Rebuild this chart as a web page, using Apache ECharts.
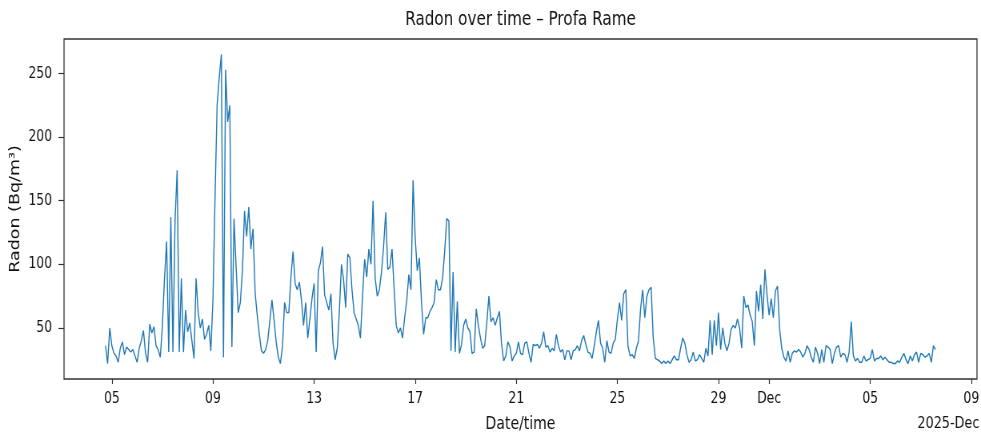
<!DOCTYPE html>
<html>
<head>
<meta charset="utf-8">
<title>Radon over time – Profa Rame</title>
<script src="https://cdn.jsdelivr.net/npm/echarts@6/dist/echarts.min.js"></script>
<style>
  html, body { margin: 0; padding: 0; background: #fff; overflow: hidden; }
  /* the reference figure is squeezed horizontally: draw wider, then scale x */
  #chart { width: 1226px; height: 433px; transform: scaleX(0.80016); transform-origin: 0 0; }
</style>
</head>
<body>
<div id="chart"></div>
<script>
// radon readings (Bq/m3), one every 2 hours, first at 2025-11-04 18:00
const stepHours = 2;
const week1 = [
  36, 22, 50,                                         // Nov 4 (18h-22h)
  36, 30, 28, 23, 34, 39, 29, 35, 33, 31, 33, 28,     // Nov 5
  23, 34, 40, 48, 30, 23, 53, 46, 51, 36, 33, 27,     // Nov 6
  52, 89, 118, 31, 137, 31, 134, 174, 31, 89, 31, 64, // Nov 7
  47, 54, 40, 26, 89, 62, 50, 57, 41, 45, 52, 32,     // Nov 8
  72, 153, 226, 247, 265, 27, 253, 212, 225, 35, 136, 98, // Nov 9
  62, 70, 95, 142, 122, 145, 112, 128, 78, 60, 45, 32     // Nov 10
];
const week2 = [
  30, 33, 40, 56, 72, 56, 39, 27, 22, 36, 70, 62,     // Nov 11
  62, 90, 110, 85, 80, 86, 72, 52, 70, 42, 57, 73,    // Nov 12
  85, 31, 95, 101, 114, 76, 70, 64, 77, 38, 25, 34,   // Nov 13
  63, 100, 88, 66, 108, 105, 80, 62, 57, 52, 42, 75,  // Nov 14
  104, 90, 112, 100, 150, 89, 75, 80, 94, 114, 141, 96, // Nov 15
  98, 112, 81, 52, 46, 50, 42, 58, 72, 92, 80, 166,   // Nov 16
  121, 95, 105, 70, 45, 58, 58, 63, 66, 70, 88, 80    // Nov 17
];
const week3 = [
  80, 89, 110, 136, 134, 32, 94, 31, 71, 30, 37, 52,  // Nov 18
  57, 50, 47, 30, 31, 65, 52, 42, 34, 36, 54, 75,     // Nov 19
  55, 58, 52, 58, 63, 37, 24, 28, 39, 35, 24, 28,     // Nov 20
  30, 39, 30, 29, 38, 39, 30, 23, 37, 36, 37, 34,     // Nov 21
  38, 47, 35, 36, 31, 34, 32, 45, 36, 31, 33, 25,     // Nov 22
  32, 32, 25, 32, 33, 36, 32, 40, 44, 37, 31, 30,     // Nov 23
  26, 36, 47, 56, 38, 34, 23, 40, 31, 30, 38, 41      // Nov 24
];
const week4 = [
  57, 70, 56, 77, 80, 36, 28, 29, 26, 34, 40, 65,     // Nov 25
  80, 58, 75, 80, 82, 42, 26, 25, 24, 22, 24, 22,     // Nov 26
  24, 22, 25, 28, 25, 25, 34, 42, 38, 29, 23, 25,     // Nov 27
  31, 24, 25, 29, 26, 23, 34, 28, 56, 29, 56, 36,     // Nov 28
  62, 33, 50, 38, 32, 38, 49, 52, 50, 57, 50, 34,     // Nov 29
  75, 66, 68, 60, 55, 36, 79, 63, 84, 57, 96, 76,     // Nov 30
  60, 73, 58, 79, 83, 49, 34, 27, 24, 32, 23, 30      // Dec 1
];
const week5 = [
  32, 31, 33, 31, 27, 30, 36, 33, 27, 23, 35, 30,     // Dec 2
  22, 33, 23, 36, 35, 33, 22, 30, 35, 36, 27, 30,     // Dec 3
  29, 23, 31, 55, 28, 24, 26, 23, 23, 28, 24, 25,     // Dec 4
  26, 33, 24, 26, 26, 28, 25, 27, 25, 23, 23, 22,     // Dec 5
  22, 24, 23, 27, 30, 25, 22, 28, 24, 29, 31, 23,     // Dec 6
  30, 29, 27, 28, 30, 23, 36, 33                      // Dec 7 (0h-14h)
];

const xTickDates = [[2025, 11, 5], [2025, 11, 9], [2025, 11, 13], [2025, 11, 17], [2025, 11, 21],
  [2025, 11, 25], [2025, 11, 29], [2025, 12, 1], [2025, 12, 5], [2025, 12, 9]];
const xTickLabels = ['05', '09', '13', '17', '21', '25', '29', 'Dec', '05', '09'];
const yTickValues = [50, 100, 150, 200, 250];

const radon = [].concat(week1, week2, week3, week4, week5);
const points = radon.map((v, i) => [new Date(2025, 10, 4, 18 + i * stepHours).getTime(), v]);
const xTickValues = xTickDates.map(d => new Date(d[0], d[1] - 1, d[2]).getTime());

// matplotlib-like 5% margins
const t0 = points[0][0], t1 = points[points.length - 1][0];
const vMin = Math.min(...radon), vMax = Math.max(...radon);
const xPad = (t1 - t0) * 0.05, yPad = (vMax - vMin) * 0.05;

const font = 'DejaVu Sans';
const chart = echarts.init(document.getElementById('chart'));
chart.setOption({
  animation: false,
  grid: {
    left: 80, right: 5, top: 39, bottom: 54,
    outerBoundsMode: 'none',
    show: true, borderColor: '#333', borderWidth: 1.3
  },
  graphic: [
    {
      type: 'text', x: 650.5, y: 20,
      style: { text: 'Radon over time – Profa Rame', fontFamily: font, fontSize: 19, fill: '#111', align: 'center', verticalAlign: 'middle' }
    },
    {
      type: 'text', x: 1224, y: 424,
      style: { text: '2025-Dec', fontFamily: font, fontSize: 16, fill: '#111', align: 'right', verticalAlign: 'middle' }
    }
  ],
  xAxis: {
    type: 'value',
    min: t0 - xPad,
    max: t1 + xPad,
    name: 'Date/time',
    nameLocation: 'middle',
    nameGap: 36,
    nameMoveOverlap: false,
    nameTextStyle: { fontFamily: font, fontSize: 17.5, color: '#111' },
    axisLine: { show: false },
    axisTick: { show: true, length: 5, lineStyle: { color: '#333', width: 1.2 }, customValues: xTickValues },
    axisLabel: {
      customValues: xTickValues,
      margin: 12,
      fontFamily: font, fontSize: 15.5, color: '#111',
      formatter: (val) => {
        const k = xTickValues.indexOf(val);
        return k >= 0 ? xTickLabels[k] : '';
      }
    },
    splitLine: { show: false }
  },
  yAxis: {
    type: 'value',
    min: vMin - yPad,
    max: vMax + yPad,
    name: 'Radon (Bq/m³)',
    nameLocation: 'middle',
    nameGap: 52,
    nameMoveOverlap: false,
    nameTextStyle: { fontFamily: font, fontSize: 17.5, color: '#111' },
    axisLine: { show: false },
    axisTick: { show: true, length: 7, lineStyle: { color: '#333', width: 1.2 }, customValues: yTickValues },
    axisLabel: { customValues: yTickValues, margin: 15, fontFamily: font, fontSize: 15.5, color: '#111' },
    splitLine: { show: false }
  },
  series: [{
    type: 'line',
    data: points,
    showSymbol: false,
    lineStyle: { color: '#1f77b4', width: 1.4 }
  }]
});
</script>
</body>
</html>
